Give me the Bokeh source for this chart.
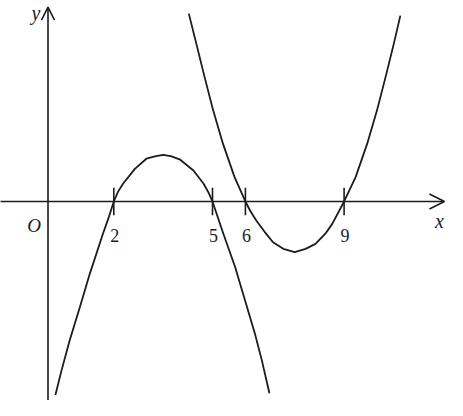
from bokeh.plotting import figure
from bokeh.models import Range1d, Arrow, OpenHead
from bokeh.embed import file_html
from bokeh.resources import INLINE
from bokeh.core.properties import value

# ---- data ----
tick_values = [2, 5, 6, 9]
tick_labels = ["2", "5", "6", "9"]

# first curve: roots at 2 and 5, opens downward
curve1_x = [0.225, 0.41, 0.66, 0.97, 1.27, 1.67, 1.83, 2.0, 2.13, 2.28, 2.64, 2.99, 3.28, 3.5,
            3.73, 4.02, 4.42, 4.73, 4.87, 5.0, 5.33, 5.69, 5.99, 6.29, 6.50, 6.73]
curve1_y = [-5.88, -5.14, -4.22, -3.21, -2.20, -0.98, -0.53, 0.0, 0.30, 0.54, 0.99, 1.30, 1.38, 1.42,
            1.38, 1.27, 0.94, 0.54, 0.29, 0.0, -0.98, -2.00, -3.01, -4.02, -4.83, -5.83]

# second curve: roots at 6 and 9, opens upward
curve2_x = [4.28, 4.51, 4.76, 5.02, 5.32, 5.67, 6.0, 6.15, 6.33, 6.59, 6.84, 7.15, 7.5,
            7.83, 8.13, 8.43, 8.64, 9.0, 9.35, 9.70, 10.00, 10.26, 10.51, 10.71]
curve2_y = [5.71, 4.79, 3.78, 2.77, 1.75, 0.74, 0.0, -0.29, -0.58, -0.93, -1.24, -1.44, -1.54,
            -1.44, -1.29, -0.98, -0.68, 0.0, 0.74, 1.75, 2.77, 3.78, 4.79, 5.65]

x_axis_end = 12.05
y_axis_end = 5.906

INK = "#1c1c1c"
SERIF = "Liberation Serif"

p = figure(width=447, height=400,
           x_range=Range1d(-1.4438, 12.1428), y_range=Range1d(-6.049, 6.109),
           output_backend="svg", toolbar_location=None,
           x_axis_location=None, y_axis_location=None, min_border=0)
p.grid.visible = False
p.outline_line_color = None
p.background_fill_color = "white"
p.border_fill_color = "white"

# axes with open arrowheads
p.add_layout(Arrow(end=OpenHead(size=15, line_width=1.6, line_color=INK),
                   x_start=-1.5, y_start=0, x_end=x_axis_end, y_end=0,
                   line_width=1.6, line_color=INK))
p.add_layout(Arrow(end=OpenHead(size=13, line_width=1.6, line_color=INK),
                   x_start=0, y_start=-6.3, x_end=0, y_end=y_axis_end,
                   line_width=1.6, line_color=INK))

# tick marks on the x axis
p.segment(x0=tick_values, y0=[-0.42] * len(tick_values),
          x1=tick_values, y1=[0.42] * len(tick_values),
          line_color=INK, line_width=1.6)

# curves
p.line(curve1_x, curve1_y, line_color=INK, line_width=1.8, line_join="round")
p.line(curve2_x, curve2_y, line_color=INK, line_width=1.8, line_join="round")

# tick labels
p.text(x=tick_values, y=[0] * len(tick_values), text=tick_labels,
       x_offset=1, y_offset=34, text_align="center", text_baseline="alphabetic",
       text_font=value(SERIF), text_font_size="18px", text_color=INK)

# axis letters
p.text(x=[0], y=[0], text=["O"], x_offset=-14, y_offset=24,
       text_align="center", text_baseline="alphabetic",
       text_font=value(SERIF), text_font_style="italic",
       text_font_size="19px", text_color=INK)
p.text(x=[x_axis_end], y=[0], text=["x"], x_offset=-5, y_offset=20,
       text_align="center", text_baseline="alphabetic",
       text_font=value(SERIF), text_font_style="italic",
       text_font_size="20px", text_color=INK)
p.text(x=[0], y=[y_axis_end], text=["y"], x_offset=-12, y_offset=6,
       text_align="center", text_baseline="alphabetic",
       text_font=value(SERIF), text_font_style="italic",
       text_font_size="20px", text_color=INK)

open("out.html", "w").write(file_html(p, INLINE))
